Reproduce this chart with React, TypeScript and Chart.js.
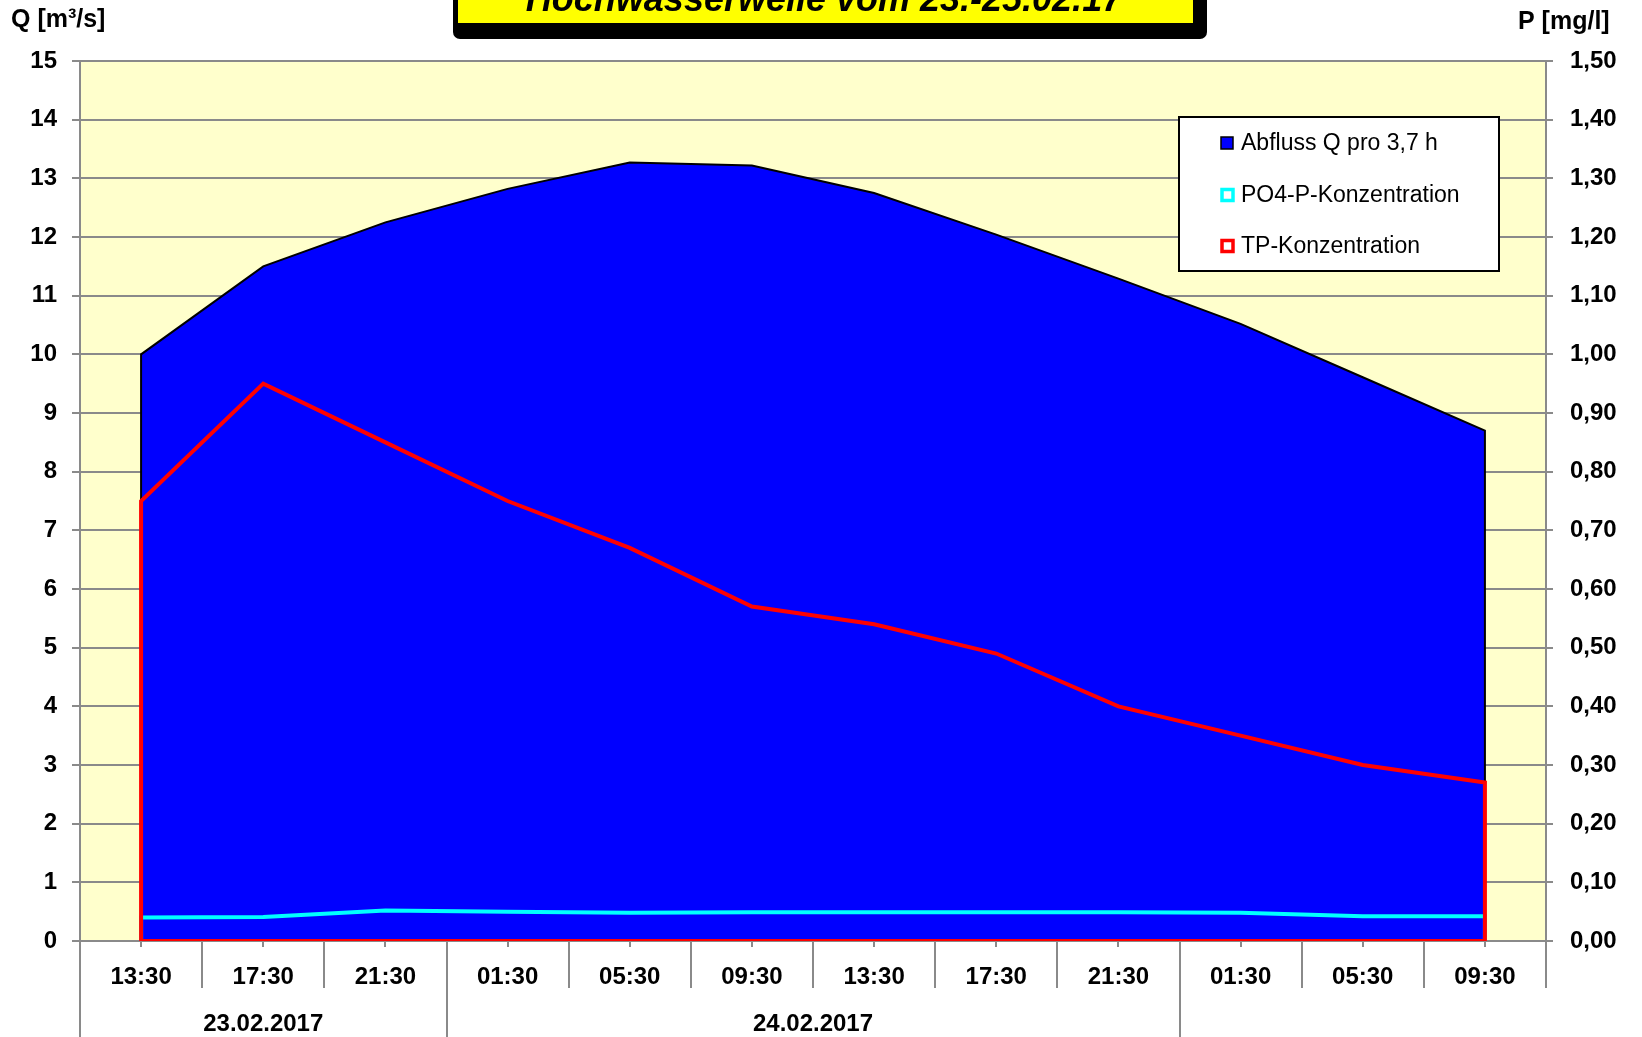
import { useEffect, useRef } from "react";
import { Chart, registerables } from "chart.js";

Chart.register(...registerables);

const FONT = '"Liberation Sans", Arial, Helvetica, sans-serif';

const titleText = "Hochwasserwelle vom 23.-25.02.17";
const leftAxisTitle = "Q [m³/s]";
const rightAxisTitle = "P [mg/l]";

const timeLabels = ["13:30", "17:30", "21:30", "01:30", "05:30", "09:30", "13:30", "17:30", "21:30", "01:30", "05:30", "09:30"];
const dateLabels = ["23.02.2017", "24.02.2017", ""];
const dateBoundaries = [0, 3, 9, 12];

const abfluss = [10.0, 11.5, 12.25, 12.82, 13.27, 13.22, 12.75, 12.04, 11.29, 10.52, 9.61, 8.7];
const po4 = [0.040, 0.041, 0.052, 0.050, 0.048, 0.049, 0.049, 0.049, 0.049, 0.048, 0.042, 0.042];
const tp = [0.75, 0.95, 0.85, 0.75, 0.67, 0.57, 0.54, 0.49, 0.40, 0.35, 0.30, 0.27];

const legendLabels = ["Abfluss Q pro 3,7 h", "PO4-P-Konzentration", "TP-Konzentration"];

const GRID = "#8a8a8a";

function outline(values: number[], closed: boolean) {
  const pts = [{ x: 0, y: 0 }, ...values.map((v, i) => ({ x: i, y: v })), { x: values.length - 1, y: 0 }];
  if (closed) pts.push({ x: 0, y: 0 });
  return pts;
}

const decorPlugin = {
  id: "decor",
  beforeDraw(chart: any) {
    const { ctx, chartArea } = chart;
    ctx.save();
    ctx.fillStyle = "#FFFFCC";
    ctx.fillRect(chartArea.left, chartArea.top, chartArea.right - chartArea.left, chartArea.bottom - chartArea.top);
    ctx.restore();
  },
  afterDraw(chart: any) {
    const { ctx, chartArea } = chart;
    const xs = chart.scales.x;
    const bottom = chartArea.bottom;
    ctx.save();

    // x axis ticks
    ctx.strokeStyle = GRID;
    ctx.lineWidth = 2;
    for (let i = 0; i <= timeLabels.length; i++) {
      const px = Math.round(xs.getPixelForValue(i - 0.5));
      const isDate = dateBoundaries.slice(0, -1).includes(i);
      ctx.beginPath();
      ctx.moveTo(px, bottom);
      ctx.lineTo(px, isDate ? 1037 : bottom + 47);
      ctx.stroke();
    }
    for (let i = 0; i < timeLabels.length; i++) {
      const px = Math.round(xs.getPixelForValue(i));
      ctx.beginPath();
      ctx.moveTo(px, bottom);
      ctx.lineTo(px, bottom + 6);
      ctx.stroke();
    }
    ctx.fillStyle = "#000";
    ctx.font = `bold 24px ${FONT}`;
    ctx.textAlign = "center";
    ctx.textBaseline = "middle";
    timeLabels.forEach((t, i) => {
      ctx.fillText(t, xs.getPixelForValue(i), 977);
    });
    dateLabels.forEach((d, g) => {
      if (!d) return;
      const mid = (dateBoundaries[g] + dateBoundaries[g + 1]) / 2 - 0.5;
      ctx.fillText(d, xs.getPixelForValue(mid), 1024);
    });

    // axis titles
    ctx.font = `bold 25px ${FONT}`;
    ctx.textAlign = "left";
    ctx.fillText(leftAxisTitle, 11, 20);
    ctx.fillText(rightAxisTitle, 1518, 22);

    // title box
    ctx.fillStyle = "#000";
    ctx.beginPath();
    (ctx as any).roundRect(453, -12, 754, 51, 7);
    ctx.fill();
    ctx.fillStyle = "#FFFF00";
    ctx.fillRect(458, -12, 735, 35);
    ctx.fillStyle = "#000";
    ctx.font = `italic bold 36px ${FONT}`;
    ctx.textAlign = "center";
    ctx.textBaseline = "alphabetic";
    ctx.fillText(titleText, 824, 11);

    // legend
    ctx.fillStyle = "#fff";
    ctx.fillRect(1179, 117, 320, 154);
    ctx.strokeStyle = "#000";
    ctx.lineWidth = 2;
    ctx.strokeRect(1179, 117, 320, 154);
    const rows = [143, 195, 246];
    ctx.font = `23px ${FONT}`;
    ctx.textAlign = "left";
    ctx.textBaseline = "middle";
    legendLabels.forEach((l, i) => {
      const cy = rows[i];
      if (i === 0) {
        ctx.fillStyle = "#0000FF";
        ctx.fillRect(1221, cy - 6, 12, 12);
        ctx.strokeStyle = "#000";
        ctx.lineWidth = 1.5;
        ctx.strokeRect(1221, cy - 6, 12, 12);
      } else {
        ctx.fillStyle = "#fff";
        ctx.fillRect(1222, cy - 5.5, 11, 11);
        ctx.strokeStyle = i === 1 ? "#00FFFF" : "#FF0000";
        ctx.lineWidth = 3.5;
        ctx.strokeRect(1222, cy - 5.5, 11, 11);
      }
      ctx.fillStyle = "#000";
      ctx.fillText(l, 1241, cy + 1);
    });
    ctx.restore();
  },
};

export default function App() {
  const ref = useRef<HTMLCanvasElement | null>(null);
  useEffect(() => {
    if (!ref.current) return;
    const chart = new Chart(ref.current, {
      type: "line",
      data: {
        datasets: [
          {
            label: legendLabels[0],
            data: outline(abfluss, false),
            yAxisID: "y",
            borderColor: "#000",
            borderWidth: 2,
            backgroundColor: "#0000FF",
            fill: "origin",
            pointRadius: 0,
            tension: 0,
            order: 3,
          },
          {
            label: legendLabels[1],
            data: outline(po4, true),
            yAxisID: "y2",
            borderColor: "#00FFFF",
            borderWidth: 4,
            fill: false,
            pointRadius: 0,
            tension: 0,
            order: 2,
          },
          {
            label: legendLabels[2],
            data: outline(tp, true),
            yAxisID: "y2",
            borderColor: "#FF0000",
            borderWidth: 4,
            fill: false,
            pointRadius: 0,
            tension: 0,
            order: 1,
          },
        ] as any,
      },
      options: {
        animation: false,
        responsive: false,
        layout: { padding: { top: 61, bottom: 96, left: 0, right: 0 } },
        plugins: { legend: { display: false }, tooltip: { enabled: false }, title: { display: false } },
        scales: {
          x: { type: "linear", min: -0.5, max: 11.5, display: false },
          y: {
            position: "left",
            min: 0,
            max: 15,
            ticks: { stepSize: 1, color: "#000", font: { family: FONT, size: 24, weight: "bold" }, padding: 15 },
            grid: { color: GRID, lineWidth: 2, tickLength: 8, drawTicks: true },
            border: { display: true, color: GRID, width: 2 },
            afterFit: (s: any) => { s.width = 80; },
          },
          y2: {
            position: "right",
            min: 0,
            max: 1.5,
            ticks: {
              stepSize: 0.1,
              color: "#000",
              font: { family: FONT, size: 24, weight: "bold" },
              padding: 17,
              callback: (v: any) => Number(v).toFixed(2).replace(".", ","),
            },
            grid: { drawOnChartArea: false, color: GRID, lineWidth: 2, tickLength: 7, drawTicks: true },
            border: { display: true, color: GRID, width: 2 },
            afterFit: (s: any) => { s.width = 96; },
          },
        },
      } as any,
      plugins: [decorPlugin],
    });
    return () => chart.destroy();
  }, []);
  return (
    <div style={{ position: "absolute", left: 0, top: 0, width: 1642, height: 1037, background: "#fff" }}>
      <canvas ref={ref} width={1642} height={1037} style={{ display: "block" }} />
    </div>
  );
}
